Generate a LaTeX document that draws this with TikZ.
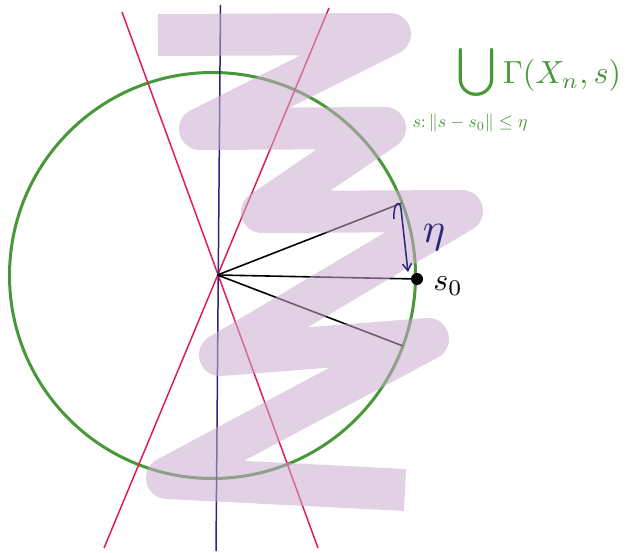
\documentclass[tikz,border=0pt]{standalone}
\usetikzlibrary{arrows.meta}
\definecolor{cgreen}{RGB}{72,152,58}
\definecolor{cred}{RGB}{222,30,92}
\definecolor{cnavy}{RGB}{42,38,125}
\definecolor{cpurple}{RGB}{202,170,206}
\tikzset{
  redline/.style={cred,line width=1.5pt},
  blueline/.style={cnavy,line width=1.5pt},
  radius line/.style={black,line width=1.6pt},
  scribble/.style={cpurple,opacity=0.55,line width=42pt,line cap=butt,line join=round},
  greentext/.style={cgreen,inner sep=0pt},
}
\begin{document}
\begin{tikzpicture}[x=1pt,y=-1pt]
\useasboundingbox (0,0) rectangle (626,553);
% points
\coordinate (O) at (217.5,275);
\coordinate (C) at (212.5,275.5);
\coordinate (P1) at (402,203);
\coordinate (S0) at (417,279);
\coordinate (P2) at (403,346);
\coordinate (BlueTop) at (220.5,5);
\coordinate (BlueBot) at (216,551);
\coordinate (RedAtop) at (122,12);
\coordinate (RedAbot) at (318,548);
\coordinate (RedBtop) at (329,8);
\coordinate (RedBbot) at (104,548);
% circle
\draw[cgreen,line width=3pt] (C) circle[radius=203pt];
% lines
\draw[redline] (RedAtop) -- (RedAbot);
\draw[redline] (RedBtop) -- (RedBbot);
\draw[blueline] (BlueTop) -- (BlueBot);
\draw[radius line] (O) -- (P1);
\draw[radius line] (O) -- (S0);
\draw[radius line] (O) -- (P2);
% scribble
\draw[scribble] (158,35) -- (390,34) -- (200,129) -- (385,128) -- (262,212)
  -- (462,211) -- (220,355) -- (428,339) -- (167,478) -- (405,490);
% s0 dot
\fill[black] (S0) circle[radius=6pt];
% eta arrow
\coordinate (EtaStart) at (394,219);
\coordinate (EtaTop) at (401,209);
\coordinate (EtaEnd) at (408,272);
\draw[cnavy,line width=1.5pt,-{Straight Barb[length=7pt,width=9pt]}]
  (EtaStart) .. controls (393,203) and (400,199) .. (EtaTop) -- (EtaEnd);
% labels
\node[cnavy,scale=4.2] (eta) at (434,238) {$\eta$};
\node[black,scale=3.2] (s0lab) at (448,286) {$s_0$};
\node[greentext,scale=4.8] (cup) at (476,73) {$\bigcup$};
\node[greentext,scale=3.2] (gam) at (562,76) {$\Gamma(X_n,s)$};
\node[greentext,scale=1.8] (sub) at (470,123) {$s\colon\|s-s_0\|\le\eta$};
\end{tikzpicture}
\end{document}
